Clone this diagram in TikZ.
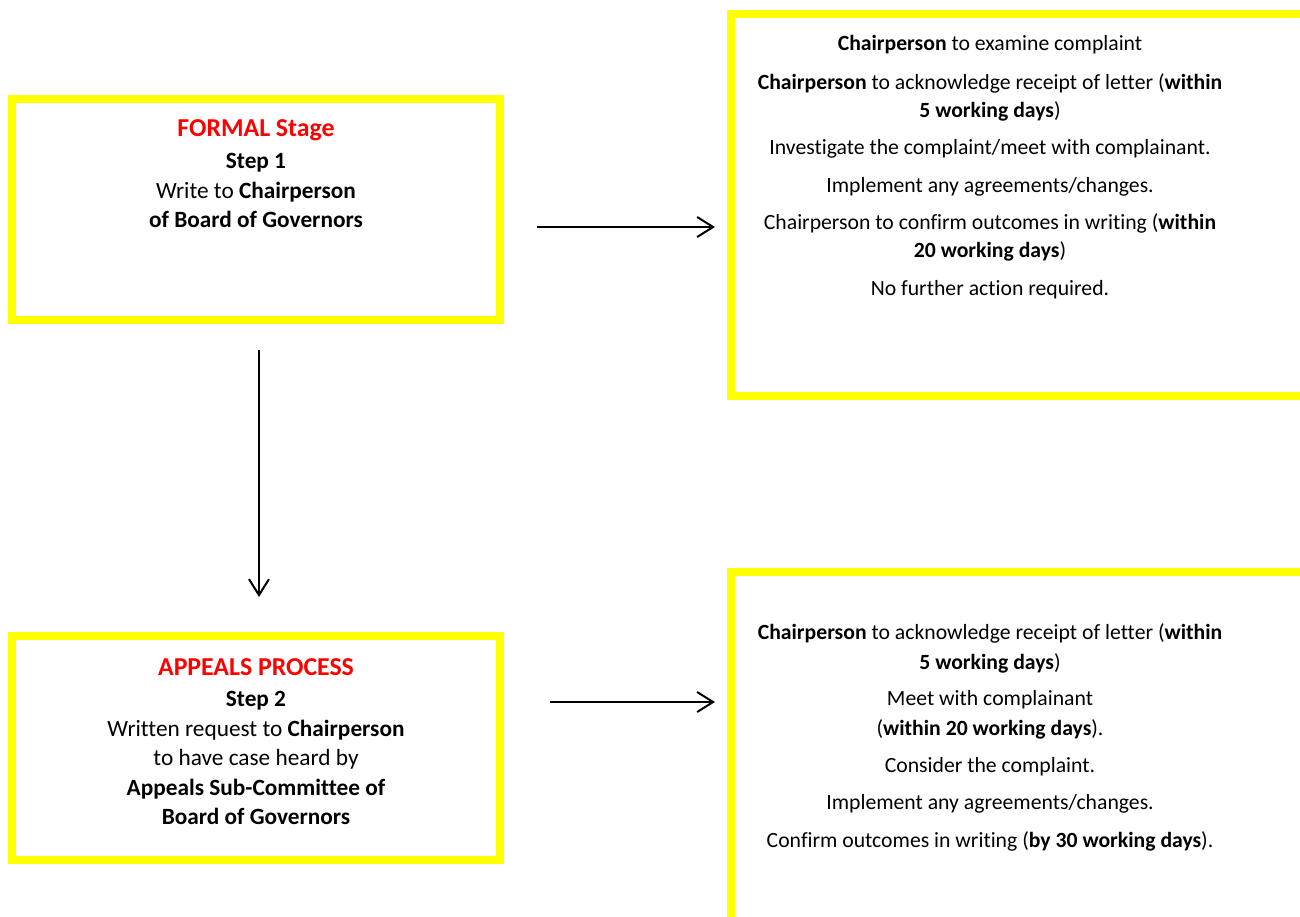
\documentclass[tikz,border=0pt]{standalone}
\usepackage{fontspec}
\setmainfont{Carlito}[Ligatures=NoCommon]
\usetikzlibrary{arrows.meta,calc}
\definecolor{boxyellow}{RGB}{255,255,0}
\definecolor{titlered}{RGB}{255,0,0}
\begin{document}
\begin{tikzpicture}[x=1pt,y=-1pt,
  ybox/.style={draw=boxyellow,line width=8pt,inner sep=0pt,rectangle},
  txt/.style={inner sep=0pt,align=center,anchor=north,font=\fontsize{21.7}{28}\selectfont},
  txtb/.style={inner sep=0pt,align=center,anchor=north,font=\fontsize{21.7}{30}\selectfont},
  ltxt/.style={inner sep=0pt,align=center,anchor=north,font=\fontsize{23.3}{29.5}\selectfont},
  arr/.style={-{Straight Barb[length=16pt,width=20pt]},line width=2pt}]
\useasboundingbox (0,0) rectangle (1300,916);
\clip (0,0) rectangle (1300,916);
\fill[white] (0,0) rectangle (1300,916);

% boxes
\node[ybox,minimum width=488pt,minimum height=221pt] (b1) at (256,209.5) {};
\node[ybox,minimum width=575pt,minimum height=382pt] (b2) at (1018.5,205) {};
\node[ybox,minimum width=488pt,minimum height=224pt] (b3) at (256,748) {};
\node[ybox,minimum width=575pt,minimum height=353pt] (b4) at (1018.5,748.5) {};

% texts
\node[ltxt] (t1) at (256,119) {{\fontsize{25.8}{30}\selectfont\bfseries\color{titlered}FORMAL Stage}\\[2.5pt]
  \textbf{Step 1}\\[0.5pt]
  Write to \textbf{Chairperson}\\
  \textbf{of Board of Governors}};

\node[ltxt] (t3) at (256,658) {{\fontsize{25.8}{30}\selectfont\bfseries\color{titlered}APPEALS PROCESS}\\[2pt]
  \textbf{Step 2}\\
  Written request to \textbf{Chairperson}\\
  to have case heard by\\
  \textbf{Appeals Sub-Committee of}\\
  \textbf{Board of Governors}};

\node[txt] (t2) at (990,35) {\textbf{Chairperson} to examine complaint\\[11pt]
  \textbf{Chairperson} to acknowledge receipt of letter (\textbf{within}\\
  \textbf{5 working days})\\[9.5pt]
  Investigate the complaint/meet with complainant.\\[9.5pt]
  Implement any agreements/changes.\\[9.5pt]
  Chairperson to confirm outcomes in writing (\textbf{within}\\
  \textbf{20 working days})\\[9.5pt]
  No further action required.};

\node[txtb] (t4) at (990,623) {\textbf{Chairperson} to acknowledge receipt of letter (\textbf{within}\\
  \textbf{5 working days})\\[6pt]
  Meet with complainant\\
  (\textbf{within 20 working days}).\\[7pt]
  Consider the complaint.\\[7pt]
  Implement any agreements/changes.\\[8pt]
  Confirm outcomes in writing (\textbf{by 30 working days}).};

% connectors
\draw[arr] ($(b1.east)+(33,17.5)$) -- ($(b2.west)+(-12,22)$);
\draw[arr] ($(b1.south)+(3,26)$) -- ($(b3.north)+(3,-35)$);
\draw[arr] ($(b3.east)+(46,-46)$) -- ($(b4.west)+(-12,-46.5)$);
\end{tikzpicture}
\end{document}
